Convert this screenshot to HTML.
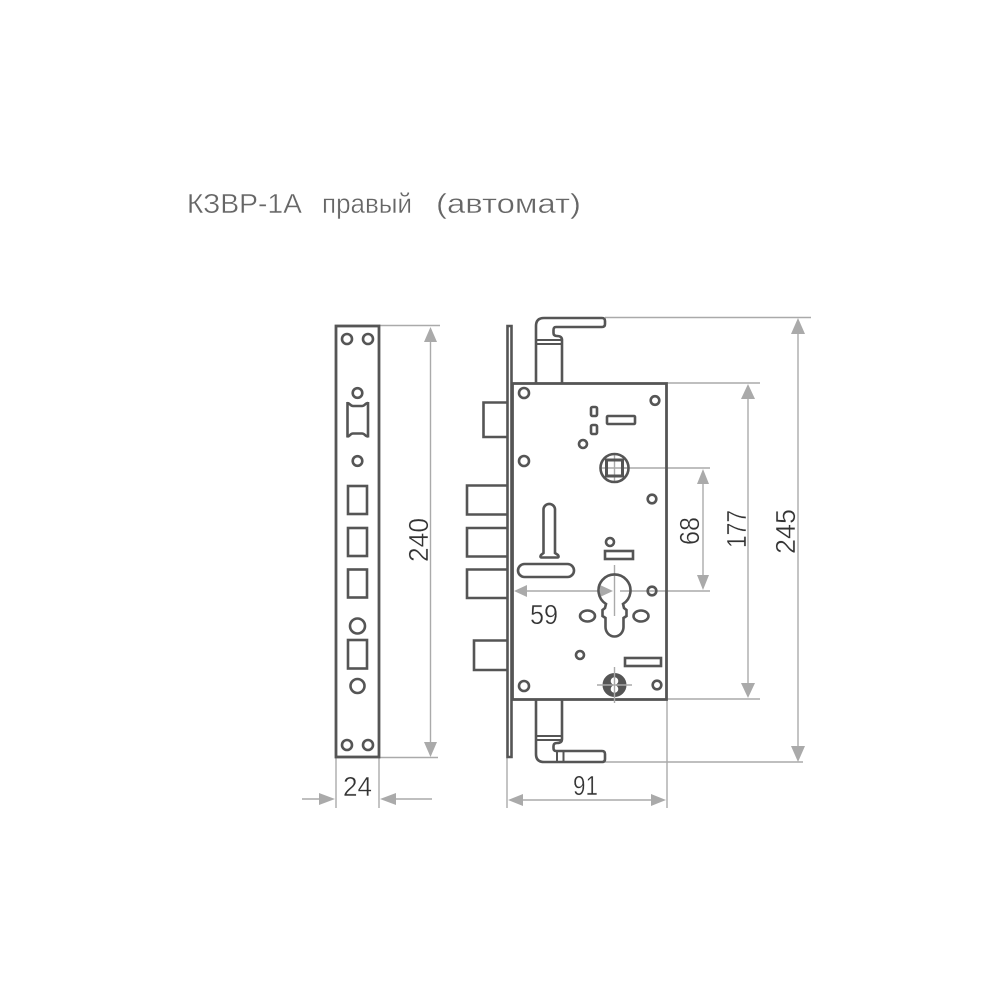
<!DOCTYPE html>
<html><head><meta charset="utf-8"><style>html,body{margin:0;padding:0;background:#fff}svg{display:block}text{font-family:"Liberation Sans",sans-serif}</style></head><body>
<svg width="1000" height="1000" viewBox="0 0 1000 1000" xmlns="http://www.w3.org/2000/svg">
<rect width="1000" height="1000" fill="#fff"/>
<g font-size="28" fill="#666" stroke="#fff" stroke-width=".4">
<text x="187" y="213" textLength="115" lengthAdjust="spacingAndGlyphs">КЗВР-1А</text>
<text x="322" y="213" textLength="90" lengthAdjust="spacingAndGlyphs">правый</text>
<text x="436" y="213" textLength="145" lengthAdjust="spacingAndGlyphs">(автомат)</text>
</g>

<!-- dimension lines -->
<g stroke="#aaa" stroke-width="1.400" fill="none">
<path d="M379 325.500H440M379 757.500H438M430.500 335V750"/>
<path d="M336 758V808M379 758V808M302 799H326M390 799H432"/>
<path d="M605 317.500H811M605 762H803M798 325V755"/>
<path d="M667 383H760M667 699H760M748 392V690"/>
<path d="M622 468H710M620 591H710M703 475V585"/>
<path d="M520 591H606M507 758V808M667 700V808M516 800H658"/>
<path d="M614.500 565V616M614.500 455V482M601 468H628"/>
</g>
<g fill="#aaa">
<path d="M430.500 327L437 342H424Z"/><path d="M430.500 757L424 742H437Z"/>
<path d="M335 799L319 793V805Z"/><path d="M380 799L396 793V805Z"/>
<path d="M798 318L805 334H791Z"/><path d="M798 762L791 746H805Z"/>
<path d="M748 384L755 399H741Z"/><path d="M748 698L741 683H755Z"/>
<path d="M703 469L709 484H697Z"/><path d="M703 590L697 575H709Z"/>
<path d="M514 591L527 585V597Z"/><path d="M613 591L600 585V597Z"/>
<path d="M508 800L523 794V806Z"/><path d="M666 800L651 794V806Z"/>
</g>

<!-- strike plate -->
<g stroke="#555" stroke-width="2.600" fill="none">
<rect x="336" y="326" width="43" height="431" stroke-width="2.800"/>
<circle cx="347" cy="339" r="5"/><circle cx="368" cy="339" r="5"/>
<circle cx="357.500" cy="393" r="4.800"/>
<path d="M347.500 402V437.500M368 402V437.500M347.500 403C350 403 350 406 353 406H362C365 406 365 403 368 403M347.500 436.500C350 436.500 350 433.500 353 433.500H362C365 433.500 365 436.500 368 436.500"/>
<circle cx="357.500" cy="461" r="4.800"/>
<rect x="348" y="486" width="19" height="28"/><rect x="348" y="528" width="19" height="28"/>
<rect x="348" y="569.500" width="19" height="28"/>
<circle cx="357.500" cy="626" r="7.500"/>
<rect x="348" y="640" width="19" height="28.500"/>
<circle cx="357.500" cy="686" r="7"/>
<circle cx="347" cy="745" r="5"/><circle cx="368" cy="745" r="5"/>
</g>

<!-- lock -->
<g stroke="#555" stroke-width="2.600" fill="none">
<path d="M507.500 326H511.500V757H507.500Z"/>
<rect x="512.500" y="383.500" width="154" height="316" stroke-width="2.800"/>
<!-- top rod -->
<path d="M536 383V326Q536 318 544 318H602Q605 318 605 321V324Q605 327 602 327H556Q553.500 327 553.500 330V333Q553.500 336 557 336Q562 336 562 340V383"/>
<path d="M536 340H562M536 344H562" stroke-width="2"/>
<!-- bottom rod -->
<path d="M536 700V754Q536 762 544 762H602Q605 762 605 759V754Q605 751 602 751H556Q553.500 751 553.500 748V746Q553.500 743 557 743Q562 743 562 739V700"/>
<path d="M536 736H562M536 740H562" stroke-width="2"/>
<path d="M557 752V762M563.500 752V762" stroke-width="2"/>
<!-- bolts -->
<path d="M507 402.500H483.500V437H507"/>
<path d="M507 485.500H467V514.500H507"/>
<path d="M507 528H467V556.500H507"/>
<path d="M507 569.500H467V598H507"/>
<path d="M507 640.500H474V670H507"/>
<!-- holes -->
<circle cx="524" cy="393" r="5"/><circle cx="655" cy="400.500" r="4.300"/>
<rect x="591" y="407" width="6" height="9" rx="1.500"/><rect x="591" y="425" width="6" height="9" rx="1.500"/>
<rect x="607" y="416" width="28" height="8" rx="1"/>
<circle cx="583" cy="444" r="4"/><circle cx="524" cy="461" r="5"/>
<circle cx="614.500" cy="468" r="14"/>
<rect x="606.500" y="460" width="16" height="16" stroke-width="3"/>
<circle cx="652" cy="499" r="4.300"/>
<path d="M543.500 553V509A5.800 5.800 0 0 1 555 509V553L558 555Q559.500 557.500 557 557.500H542Q539.500 557.500 541 555Z"/>
<rect x="518" y="564" width="56" height="13" rx="6.500"/>
<circle cx="610" cy="542" r="4"/>
<rect x="605" y="551" width="28" height="8"/>
<path d="M606 604A16 16 0 1 1 623 604L624 608L626.500 610V616L623.500 618V627A9 9.500 0 0 1 605.500 627V618L602.500 616V610L605 608Z"/>
<ellipse cx="587.500" cy="616" rx="7.500" ry="5.500"/><ellipse cx="641" cy="616" rx="7.500" ry="5.500"/>
<circle cx="652" cy="591" r="4.300"/>
<circle cx="580" cy="655" r="4"/>
<rect x="625" y="658" width="36" height="8"/>
<circle cx="524" cy="686" r="5"/><circle cx="657" cy="685" r="4.300"/>
</g>
<circle cx="614.500" cy="685" r="12" fill="#555"/>
<circle cx="614.500" cy="681" r="3.800" fill="#fff"/><circle cx="614.500" cy="689" r="3.800" fill="#fff"/>
<path d="M597 685H632M614.500 667V703" stroke="#aaa" stroke-width="1.400"/>

<!-- labels -->
<g fill="#333" font-size="28" stroke="#fff" stroke-width=".4">
<text x="343" y="796" textLength="29" lengthAdjust="spacingAndGlyphs">24</text>
<text x="573" y="795" textLength="25" lengthAdjust="spacingAndGlyphs">91</text>
<text x="530" y="624" textLength="28" lengthAdjust="spacingAndGlyphs">59</text>
<text transform="translate(428 562) rotate(-90)" textLength="44" lengthAdjust="spacingAndGlyphs">240</text>
<text transform="translate(699 545) rotate(-90)" textLength="28" lengthAdjust="spacingAndGlyphs">68</text>
<text transform="translate(746 548) rotate(-90)" textLength="38" lengthAdjust="spacingAndGlyphs">177</text>
<text transform="translate(795 554) rotate(-90)" textLength="45" lengthAdjust="spacingAndGlyphs">245</text>
</g>
</svg>
</body></html>
